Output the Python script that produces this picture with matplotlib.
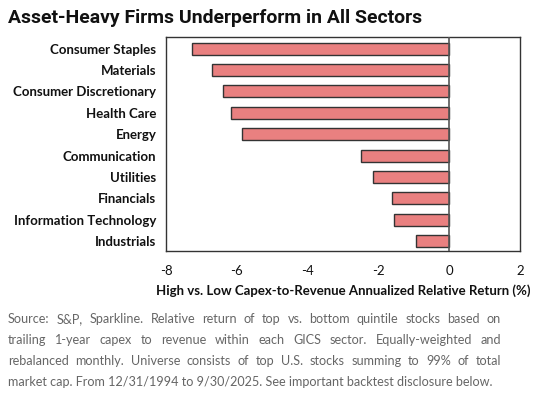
import matplotlib
matplotlib.use('Agg')
import matplotlib.pyplot as plt
import numpy as np

sectors = ['Consumer Staples', 'Materials', 'Consumer Discretionary', 'Health Care',
           'Energy', 'Communication', 'Utilities', 'Financials',
           'Information Technology', 'Industrials']
returns = [-7.27, -6.71, -6.40, -6.17, -5.84, -2.49, -2.15, -1.61, -1.57, -0.95]
xticks = [-8, -6, -4, -2, 0, 2]

title = 'Asset-Heavy Firms Underperform in All Sectors'
xlabel = 'High vs. Low Capex-to-Revenue Annualized Relative Return (%)'
note_lines = [
    'Source: S&P, Sparkline. Relative return of top vs. bottom quintile stocks based on',
    'trailing 1-year capex to revenue within each GICS sector. Equally-weighted and',
    'rebalanced monthly. Universe consists of top U.S. stocks summing to 99% of total',
    'market cap. From 12/31/1994 to 9/30/2025. See important backtest disclosure below.',
]

W, H = 554, 399
fig = plt.figure(figsize=(W / 100, H / 100), dpi=100)
ax = fig.add_axes([166 / W, 1 - 251 / H, (520 - 166) / W, (251 - 37) / H])

y = np.arange(len(sectors))
ax.barh(y, returns, height=0.56, color='#E98080', edgecolor='#333333', linewidth=1.0, zorder=2)
ax.axvline(0, color='#555555', linewidth=1.2, zorder=3)

ax.set_xlim(-8, 2)
ax.set_ylim(9.47, -0.55)
ax.set_xticks(xticks)
ax.set_xticklabels([str(t) for t in xticks], fontfamily='Lato', fontsize=9.5, color='#111111')
ax.set_yticks(y)
ax.set_yticklabels(sectors, fontfamily='Lato', fontweight='bold', fontsize=9.5, color='#111111')
ax.tick_params(axis='both', length=0)
ax.tick_params(axis='x', pad=10)
ax.tick_params(axis='y', pad=7)
for s in ax.spines.values():
    s.set_color('#333333')
    s.set_linewidth(1.0)

ax.set_xlabel(xlabel, fontfamily='Lato', fontweight='bold', fontsize=9.5, color='#111111', labelpad=5)

renderer = fig.canvas.get_renderer()

# title, sized so it spans the same width as the reference (~417 px)
t = fig.text(8 / W, 1 - 18 / H, title, fontfamily='Roboto', fontweight='bold', fontsize=15,
             color='#111111', va='center', ha='left')
tw = t.get_window_extent(renderer).width
t.set_fontsize(15 * 417 / tw)

# justified footnote
left, right = 8, 501
for i, line in enumerate(note_lines):
    ypix = 319 + i * 21
    words = line.split(' ')
    if i == len(note_lines) - 1:
        fig.text(left / W, 1 - ypix / H, line, fontfamily='Lato', fontsize=9.1,
                 color='#666666', va='center', ha='left')
        continue
    txts = [fig.text(0, 1 - ypix / H, w, fontfamily='Lato', fontsize=9.1,
                     color='#666666', va='center', ha='left') for w in words]
    widths = [t.get_window_extent(renderer).width for t in txts]
    gap = (right - left - sum(widths)) / (len(words) - 1)
    x = left
    for t, w in zip(txts, widths):
        t.set_x(x / W)
        x += w + gap

fig.savefig('out.png', dpi=100)
